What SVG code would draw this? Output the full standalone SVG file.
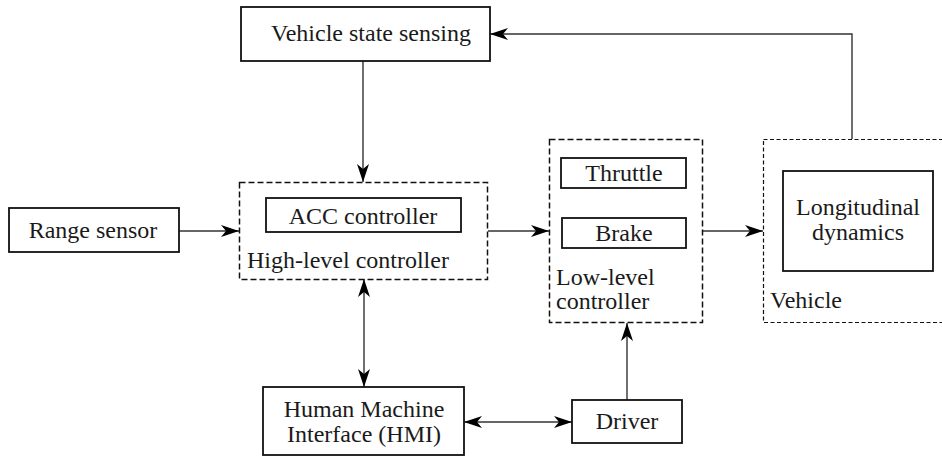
<svg xmlns="http://www.w3.org/2000/svg" width="942" height="457" viewBox="0 0 942 457">
<style>
text{font-family:"Liberation Serif","DejaVu Serif","Times New Roman",serif;font-size:24px;fill:#1a1a1a}
.c{text-anchor:middle}
.box{fill:#fff;stroke:#111;stroke-width:1.8}
.dash{fill:none;stroke:#111;stroke-width:1.5;stroke-dasharray:6 3}
.dot{fill:none;stroke:#111;stroke-width:1.2;stroke-dasharray:4 2.5}
.ln{fill:none;stroke:#333;stroke-width:1.4}
</style>
<defs>
<marker id="ah" markerUnits="userSpaceOnUse" markerWidth="18" markerHeight="12" viewBox="0 0 18 12" refX="18" refY="6" orient="auto-start-reverse">
<path d="M0,0 L18,6 L0,12 L5,6 z" fill="#000"/>
</marker>
</defs>
<rect width="942" height="457" fill="#fff"/>
<g id="connectors">
<path class="ln" d="M852,139 V34 H490" marker-end="url(#ah)"/>
<path class="ln" d="M363,61 V182" marker-end="url(#ah)"/>
<path class="ln" d="M179,231 H239" marker-end="url(#ah)"/>
<path class="ln" d="M488,231 H549" marker-end="url(#ah)"/>
<path class="ln" d="M702,231 H763" marker-end="url(#ah)"/>
<path class="ln" d="M364,279 V387" marker-start="url(#ah)" marker-end="url(#ah)"/>
<path class="ln" d="M464,422 H572" marker-start="url(#ah)" marker-end="url(#ah)"/>
<path class="ln" d="M627,400 V323" marker-end="url(#ah)"/>
</g>
<g id="vehicle-state-sensing">
<rect class="box" x="241" y="7" width="249" height="54"/>
<text class="c" x="371" y="41">Vehicle state sensing</text>
</g>
<g id="range-sensor">
<rect class="box" x="9" y="208" width="170" height="44"/>
<text class="c" x="93" y="238">Range sensor</text>
</g>
<g id="high-level-controller">
<rect class="dash" x="239.5" y="182.5" width="248" height="97"/>
<text x="247" y="268">High-level controller</text>
</g>
<g id="acc-controller">
<rect class="box" x="266" y="198" width="195" height="34"/>
<text class="c" x="363" y="224">ACC controller</text>
</g>
<g id="low-level-controller">
<rect class="dash" x="549.5" y="139.5" width="153" height="183"/>
<text x="556" y="285">Low-level</text>
<text x="556" y="309">controller</text>
</g>
<g id="thruttle">
<rect class="box" x="561" y="158" width="125" height="30"/>
<text class="c" x="624" y="181">Thruttle</text>
</g>
<g id="brake">
<rect class="box" x="562" y="218" width="124" height="30"/>
<text class="c" x="624" y="241">Brake</text>
</g>
<g id="vehicle">
<rect class="dot" x="763.5" y="139.5" width="200" height="183"/>
<text x="770" y="308">Vehicle</text>
</g>
<g id="longitudinal-dynamics">
<rect class="box" x="783" y="171" width="150" height="100"/>
<text class="c" x="858" y="215">Longitudinal</text>
<text class="c" x="858" y="240">dynamics</text>
</g>
<g id="hmi">
<rect class="box" x="263" y="387" width="201" height="68"/>
<text class="c" x="364" y="417">Human Machine</text>
<text class="c" x="364" y="442">Interface (HMI)</text>
</g>
<g id="driver">
<rect class="box" x="572" y="400" width="110" height="43"/>
<text class="c" x="627" y="429">Driver</text>
</g>
</svg>
